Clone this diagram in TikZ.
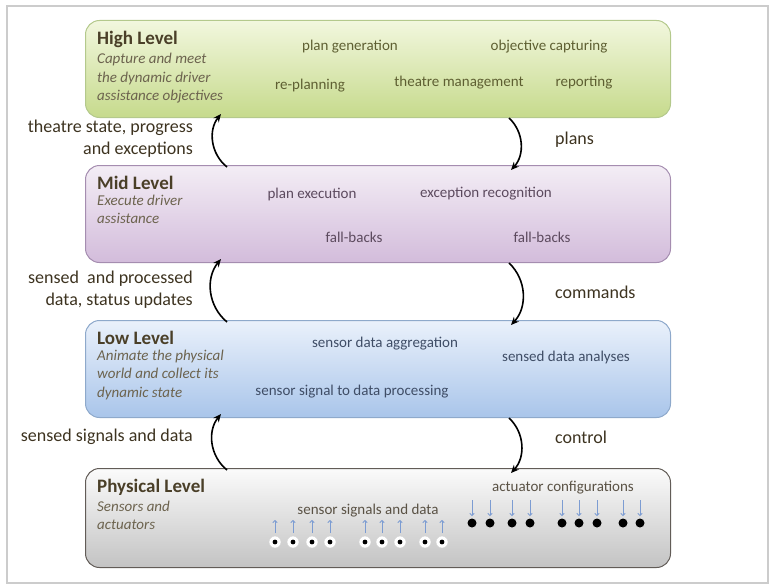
\documentclass[tikz,border=0pt]{standalone}
\usepackage{fontspec}
\setmainfont{Carlito}
\usetikzlibrary{positioning,arrows.meta}

\definecolor{hightop}{HTML}{F2F7DE}
\definecolor{highbot}{HTML}{C6DA8C}
\definecolor{highline}{HTML}{B4C98C}
\definecolor{midtop}{HTML}{F3EDF5}
\definecolor{midbot}{HTML}{D3BCDB}
\definecolor{midline}{HTML}{A58DB0}
\definecolor{lowtop}{HTML}{EAF1FB}
\definecolor{lowbot}{HTML}{A9C5EA}
\definecolor{lowline}{HTML}{8EA9CB}
\definecolor{phystop}{HTML}{FBFBFB}
\definecolor{physbot}{HTML}{C3C3C3}
\definecolor{physline}{HTML}{625C57}
\definecolor{headtxt}{HTML}{4A3F28}
\definecolor{aimtxt}{HTML}{6C634E}
\definecolor{hightxt}{HTML}{5E5F32}
\definecolor{midtxt}{HTML}{5C4A5E}
\definecolor{lowtxt}{HTML}{3F4D66}
\definecolor{phystxt}{HTML}{5A5245}
\definecolor{notetxt}{HTML}{3D3320}
\definecolor{sigblue}{HTML}{7C9CD2}

\tikzset{
  level/.style = {rectangle,
                  rounded corners=14pt,
                  line width=1pt,
                  minimum width=585pt,
                  minimum height=97pt,
                  inner sep=0pt,
                  anchor=north west},
  title/.style = {font=\fontsize{19}{21}\selectfont\bfseries,
                  text=headtxt,
                  inner sep=0pt},
  aim/.style   = {font=\fontsize{15}{18.5}\selectfont\itshape,
                  text=aimtxt,
                  align=left,
                  inner sep=0pt},
  task/.style  = {font=\fontsize{15}{17}\selectfont,
                  inner sep=0pt},
  note/.style  = {font=\fontsize{18}{22}\selectfont,
                  text=notetxt,
                  inner sep=0pt},
  flow/.style  = {line width=1.6pt,
                  -{Stealth[length=8pt,width=7pt]}},
  signal/.style = {draw=sigblue,
                   line width=0.8pt,
                   -{To[length=3pt,width=5pt]}},
  sensor/.style = {circle,
                   fill=white,
                   draw=gray!35,
                   minimum size=12pt,
                   inner sep=0pt},
  actor/.style  = {circle,
                   fill=black,
                   minimum size=9pt,
                   inner sep=0pt}
}

\begin{document}
\begin{tikzpicture}[x=1pt, y=-1pt]
    \useasboundingbox (0,0) rectangle (773,586);
    \draw [gray!40, line width=1.5pt] (7,6) rectangle (768,583);

    % the four levels
    \node (high) [level, draw=highline, top color=hightop, bottom color=highbot] at (85,20)  {};
    \node (mid)  [level, draw=midline,  top color=midtop,  bottom color=midbot]  at (85,165) {};
    \node (low)  [level, draw=lowline,  top color=lowtop,  bottom color=lowbot]  at (85,320) {};
    \node (phys) [level, draw=physline, top color=phystop, bottom color=physbot, minimum height=99pt] at (85,468) {};

    % level names and aims
    \node (hightitle) [title, below right=11pt and 12pt of high.north west] {High Level};
    \node (highaim)   [aim,   below right=5pt and 0pt of hightitle.south west]
        {Capture and meet\\the dynamic driver\\assistance objectives};
    \node (midtitle)  [title, below right=11pt and 12pt of mid.north west] {Mid Level};
    \node (midaim)    [aim,   below right=5pt and 0pt of midtitle.south west]
        {Execute driver\\assistance};
    \node (lowtitle)  [title, below right=11pt and 12pt of low.north west] {Low Level};
    \node (lowaim)    [aim,   below right=5pt and 0pt of lowtitle.south west]
        {Animate the physical\\world and collect its\\dynamic state};
    \node (phystitle) [title, below right=11pt and 12pt of phys.north west] {Physical Level};
    \node (physaim)   [aim,   below right=5pt and 0pt of phystitle.south west]
        {Sensors and\\actuators};

    % tasks
    \node (plangen)  [task, text=hightxt] at (350,47)  {plan generation};
    \node (objcap)   [task, text=hightxt] at (549,47)  {objective capturing};
    \node (replan)   [task, text=hightxt] at (310,86)  {re-planning};
    \node (theatre)  [task, text=hightxt] at (459,83)  {theatre management};
    \node (report)   [task, text=hightxt] at (584,83)  {reporting};

    \node (planexec) [task, text=midtxt]  at (312,194) {plan execution};
    \node (excrec)   [task, text=midtxt]  at (486,194) {exception recognition};
    \node (fallmid)  [task, text=midtxt]  at (354,237) {fall-backs};
    \node (fallexc)  [task, text=midtxt]  at (542,237) {fall-backs};

    \node (aggr)     [task, text=lowtxt]  at (385,344) {sensor data aggregation};
    \node (analys)   [task, text=lowtxt]  at (566,357) {sensed data analyses};
    \node (sigproc)  [task, text=lowtxt]  at (352,392) {sensor signal to data processing};

    \node (sigdata)  [task, text=phystxt] at (368,511) {sensor signals and data};
    \node (actconf)  [task, text=phystxt] at (563,488) {actuator configurations};

    % sensors and actuators
    \foreach \sx in {275,293,312,330,365,382,400,425,442} {
        \node (s\sx) [sensor] at (\sx,542) {};
        \fill (s\sx) circle (2.4pt);
        \draw [signal] (s\sx) ++(0,-9) -- ++(0,-13);
    }
    \foreach \ax in {472,490,512,530,562,579,597,623,640} {
        \node (a\ax) [actor] at (\ax,523) {};
        \draw [signal] (a\ax) ++(0,-23) -- ++(0,16);
    }

    % flows between levels
    \draw [flow] ([xshift=142pt,yshift=-2pt]mid.north west)  to[bend left=45] ([xshift=136pt,yshift=4pt]high.south west);
    \draw [flow] ([xshift=424pt]high.south west)             to[bend left=45] ([xshift=426pt,yshift=-5pt]mid.north west);
    \draw [flow] ([xshift=142pt,yshift=-2pt]low.north west)  to[bend left=45] ([xshift=136pt,yshift=4pt]mid.south west);
    \draw [flow] ([xshift=424pt]mid.south west)              to[bend left=45] ([xshift=426pt,yshift=-5pt]low.north west);
    \draw [flow] ([xshift=142pt,yshift=-2pt]phys.north west) to[bend left=45] ([xshift=136pt,yshift=4pt]low.south west);
    \draw [flow] ([xshift=424pt]low.south west)              to[bend left=45] ([xshift=426pt,yshift=-5pt]phys.north west);

    % flow labels
    \node (upnote1)   [note, align=right, anchor=east] at (193,139) {theatre state, progress\\and exceptions};
    \node (downnote1) [note, anchor=west] at (555,140) {plans};
    \node (upnote2)   [note, align=right, anchor=east] at (193,290) {sensed\ \ and processed\\data, status updates};
    \node (downnote2) [note, anchor=west] at (555,292) {commands};
    \node (upnote3)   [note, anchor=east] at (193,437) {sensed signals and data};
    \node (downnote3) [note, anchor=west] at (555,437) {control};
\end{tikzpicture}
\end{document}
